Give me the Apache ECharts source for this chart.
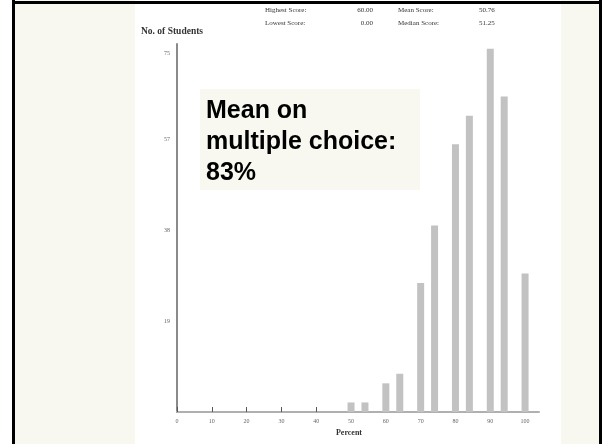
<!DOCTYPE html>
<html>
<head>
<meta charset="utf-8">
<script src="https://cdn.jsdelivr.net/npm/echarts@6/dist/echarts.min.js"></script>
<style>
  html, body { margin: 0; padding: 0; background: #fff; }
  #chart { width: 602px; height: 444px; }
</style>
</head>
<body>
<div id="chart"></div>
<script>
// score distribution (percent bucket -> number of students)
const percents = [50, 54, 60, 64, 70, 74, 80, 84, 90, 94, 100]
const students = [2, 2, 6, 8, 27, 39, 56, 62, 76, 66, 29]
const xTickValues = [0, 10, 20, 30, 40, 50, 60, 70, 80, 90, 100]
const yTickValues = [19, 38, 57, 75]
const headerLabels = ['Highest Score:', 'Lowest Score:', 'Mean Score:', 'Median Score:']
const headerValues = ['60.00', '0.00', '50.76', '51.25']
const noteLines = ['Mean on', 'multiple choice:', '83%']

const chart = echarts.init(document.getElementById('chart'))

const cream = '#f8f8f0'
const serif = '"Liberation Serif", "DejaVu Serif", serif'

const option = {
  animation: false,
  backgroundColor: '#fff',
  grid: {
    left: 177,
    right: 63,
    top: 44,
    bottom: 32
  },
  xAxis: {
    type: 'value',
    min: 0,
    max: 104,
    interval: 10,
    splitLine: { show: false },
    axisLine: { lineStyle: { color: '#b0b0b0', width: 2 } },
    axisTick: {
      show: true, inside: true, length: 5,
      customValues: xTickValues,
      lineStyle: { color: '#555', width: 1 }
    },
    axisLabel: {
      fontSize: 6, color: '#666', margin: 6, fontFamily: serif,
      customValues: xTickValues
    }
  },
  yAxis: {
    type: 'value',
    min: 0,
    max: 77,
    splitLine: { show: false },
    axisLine: { show: true, lineStyle: { color: '#8a8a8a', width: 2 } },
    axisTick: { show: false },
    axisLabel: {
      fontSize: 6,
      color: '#666',
      margin: 7,
      fontFamily: serif,
      customValues: yTickValues
    }
  },
  series: [{
    type: 'bar',
    barWidth: 7,
    itemStyle: { color: '#c2c2c2' },
    data: percents.map((p, i) => [p, students[i]])
  }],
  graphic: [
    // side panels and frame
    { type: 'rect', z: -10, shape: { x: 15, y: 0, width: 120, height: 444 }, style: { fill: cream } },
    { type: 'rect', z: -10, shape: { x: 561, y: 0, width: 38, height: 444 }, style: { fill: cream } },
    { type: 'rect', z: 10, shape: { x: 12, y: 0, width: 3, height: 444 }, style: { fill: '#000' } },
    { type: 'rect', z: 10, shape: { x: 12, y: 1, width: 590, height: 3 }, style: { fill: '#000' } },
    { type: 'rect', z: 10, shape: { x: 599, y: 0, width: 3, height: 444 }, style: { fill: '#000' } },
    // header stats
    { type: 'text', left: 265, top: 7, style: { text: headerLabels[0], fontSize: 7, fill: '#333', fontFamily: serif } },
    { type: 'text', left: 265, top: 20, style: { text: headerLabels[1], fontSize: 7, fill: '#333', fontFamily: serif } },
    { type: 'text', left: 398, top: 7, style: { text: headerLabels[2], fontSize: 7, fill: '#333', fontFamily: serif } },
    { type: 'text', left: 398, top: 20, style: { text: headerLabels[3], fontSize: 7, fill: '#333', fontFamily: serif } },
    { type: 'text', x: 373, y: 7, style: { text: headerValues[0], fontSize: 7, fill: '#333', fontFamily: serif, align: 'right' } },
    { type: 'text', x: 373, y: 20, style: { text: headerValues[1], fontSize: 7, fill: '#333', fontFamily: serif, align: 'right' } },
    { type: 'text', left: 479, top: 7, style: { text: headerValues[2], fontSize: 7, fill: '#333', fontFamily: serif } },
    { type: 'text', left: 479, top: 20, style: { text: headerValues[3], fontSize: 7, fill: '#333', fontFamily: serif } },
    // axis titles
    { type: 'text', left: 141, top: 27, style: { text: 'No. of Students', fontSize: 9.5, fontWeight: 'bold', fill: '#333', fontFamily: serif } },
    { type: 'text', x: 349, y: 429, style: { text: 'Percent', fontSize: 8, fontWeight: 'bold', fill: '#333', fontFamily: serif, align: 'center' } },
    // note box
    { type: 'rect', z: 20, shape: { x: 200, y: 89, width: 220, height: 101 }, style: { fill: cream } },
    {
      type: 'text', z: 21, left: 206, top: 96,
      style: {
        text: noteLines.join('\n'),
        fontSize: 25,
        lineHeight: 31,
        fontWeight: 'bold',
        fill: '#000',
        fontFamily: '"Liberation Sans", Arial, sans-serif'
      }
    }
  ]
}

chart.setOption(option)
</script>
</body>
</html>
